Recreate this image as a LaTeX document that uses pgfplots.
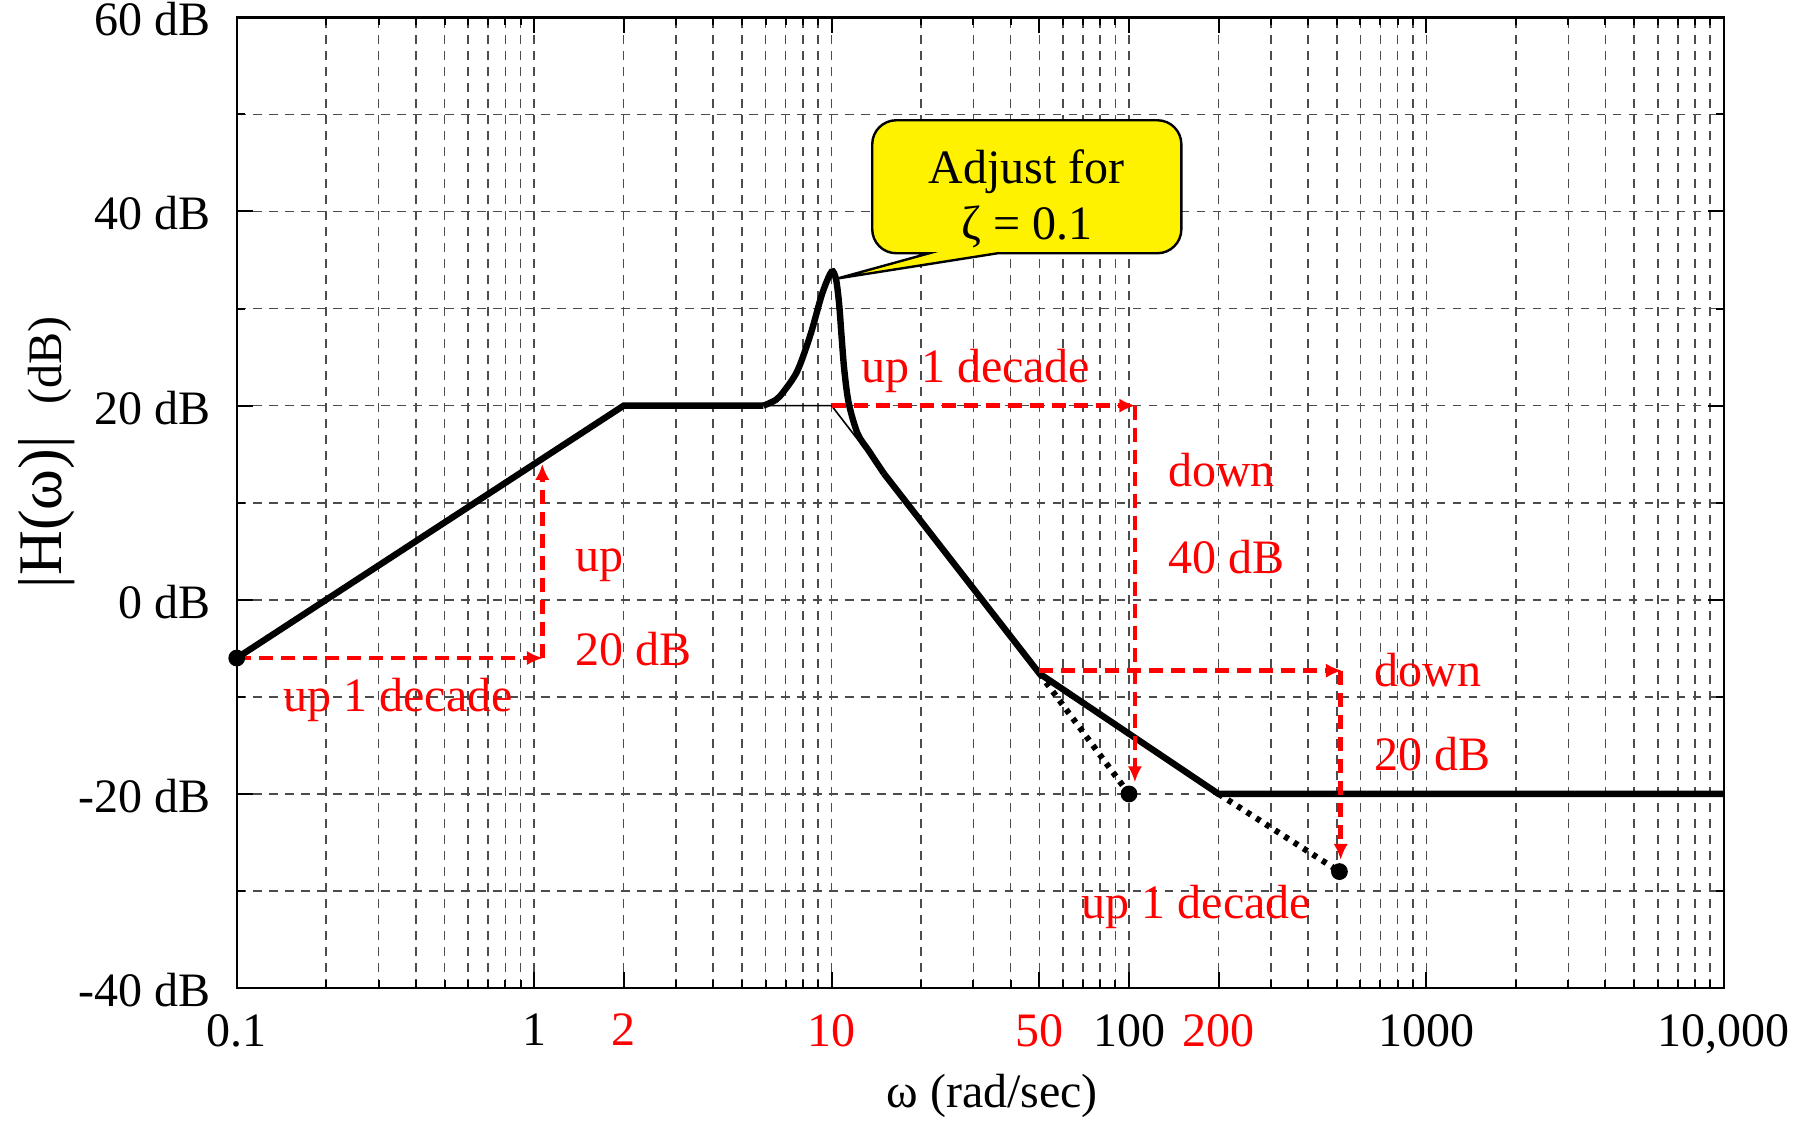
\documentclass[border=0pt]{standalone}
\usepackage{pgfplots}
\pgfplotsset{compat=1.18}
\usepackage{fontspec}
\setmainfont{Liberation Serif}
\usetikzlibrary{arrows.meta}
\begin{document}
\begin{tikzpicture}[font=\fontsize{12}{14.4}\selectfont]
\useasboundingbox (-59.2pt,-33.6pt) rectangle (395.6pt,247.05pt);
\begin{axis}[
  at={(0pt,0pt)}, anchor=south west,
  scale only axis, width=371.8pt, height=242.7pt,
  xmode=log, xmin=0.1, xmax=10000, ymin=-40, ymax=60,
  xtick={0.1,1,2,10,50,100,200,1000,10000},
  xticklabels={0.1,1,\textcolor{red}{2},\textcolor{red}{10},\textcolor{red}{50},100,\textcolor{red}{200},1000,{10,000}},
  minor xtick={0.2,0.3,0.4,0.5,0.6,0.7,0.8,0.9,3,4,5,6,7,8,9,20,30,40,60,70,80,90,300,400,500,600,700,800,900,2000,3000,4000,5000,6000,7000,8000,9000},
  ytick={-40,-20,0,20,40,60},
  yticklabels={-40 dB,-20 dB,0 dB,20 dB,40 dB,60 dB},
  minor ytick={-30,-10,10,30,50},
  grid=both,
  major grid style={black!70, line width=0.4pt, dash pattern=on 2.2pt off 1.8pt},
  minor grid style={black!70, line width=0.4pt, dash pattern=on 2.2pt off 1.8pt},
  axis line style={line width=0.6pt},
  tick style={black, line width=0.5pt},
  major tick length=4pt, minor tick length=2pt,
  xticklabel style={yshift=-3pt},
  yticklabel style={xshift=-3pt, yshift=-0.5pt},
  clip=false,
  /pgf/number format/assume math mode=true,
]
% thin asymptotes
\addplot[black, line width=0.4pt] coordinates {(5.9,20) (10,20) (14,14.2)};
% main magnitude
\addplot[black, line width=1.6pt] coordinates {(0.1,-6) (2,20) (5.9,20)};
\addplot[black, line width=1.6pt, smooth, tension=0.5] coordinates {
 (5.9,20) (6.5,20.6) (6.92,21.5) (7.68,23.6) (8.51,27.4) (9.29,31.5) (10.0,33.8) (10.35,33.0)
 (10.6,30.5) (10.8,27.2) (11.04,23.6) (11.43,20.2) (12.24,17.1) (13.37,15.3) (15,13)};
\addplot[black, line width=1.6pt] coordinates {(15,13) (50,-7.6) (200,-20) (10000,-20)};
% dotted extensions
\addplot[black, line width=1.5pt, dash pattern=on 1.2pt off 1.6pt] coordinates {(50,-7.6) (100,-20)};
\addplot[black, line width=1.5pt, dash pattern=on 1.2pt off 1.6pt] coordinates {(200,-20) (510,-28)};
% dots
\addplot[black, only marks, mark=*, mark size=1.9pt] coordinates {(0.1,-6) (100,-20) (510,-28)};
% red arrows
\addplot[red, line width=1.2pt, dash pattern=on 3.5pt off 2pt, -{Latex[length=4pt,width=3.6pt]}] coordinates {(0.1,-6) (1.07,-6)};
\addplot[red, line width=1.2pt, dash pattern=on 3.5pt off 2pt, -{Latex[length=4pt,width=3.6pt]}] coordinates {(1.065,-6) (1.065,14)};
\addplot[red, line width=1.2pt, dash pattern=on 3.5pt off 2pt, -{Latex[length=4pt,width=3.6pt]}] coordinates {(10,20) (105,20)};
\addplot[red, line width=1.2pt, dash pattern=on 3.5pt off 2pt, -{Latex[length=4pt,width=3.6pt]}] coordinates {(104.7,20) (104.7,-18.8)};
\addplot[red, line width=1.2pt, dash pattern=on 3.5pt off 2pt, -{Latex[length=4pt,width=3.6pt]}] coordinates {(50,-7.3) (520,-7.3)};
\addplot[red, line width=1.2pt, dash pattern=on 3.5pt off 2pt, -{Latex[length=4pt,width=3.6pt]}] coordinates {(515,-7.3) (515,-26.8)};
% red texts
\node[red] at (axis cs:0.349,-10.3) {up 1 decade};
\node[red, anchor=west, inner sep=0pt] at (axis cs:1.37,3.6) {up};
\node[red, anchor=west, inner sep=0pt] at (axis cs:1.37,-5.1) {20 dB};
\node[red] at (axis cs:30.5,23.6) {up 1 decade};
\node[red, anchor=west, inner sep=0pt] at (axis cs:134.6,13.4) {down};
\node[red, anchor=west, inner sep=0pt] at (axis cs:134.6,4.4) {40 dB};
\node[red, anchor=west, inner sep=0pt] at (axis cs:667,-7.2) {down};
\node[red, anchor=west, inner sep=0pt] at (axis cs:667,-15.9) {20 dB};
\node[red] at (axis cs:168.6,-31.6) {up 1 decade};
% callout
\draw[black, line width=0.6pt, fill=yellow] (axis cs:21.3,35.7) -- (axis cs:10.47,33.1) -- (axis cs:36.2,35.7)
  [rounded corners=6pt] -- (axis cs:150,35.7) -- (axis cs:150,49.4) -- (axis cs:13.7,49.4) -- (axis cs:13.7,35.7) [sharp corners] -- cycle;
\node[align=center, font=\fontsize{12}{14}\selectfont] at (axis cs:45.3,41.3) {Adjust for\\ζ = 0.1};
% axis labels
\node[rotate=90] at (axis description cs:-0.128,0.552) {{\fontsize{15.5}{16}\selectfont |H(ω)|}\hspace{8pt}(dB)};
\node at (axis description cs:0.508,-0.111) {ω (rad/sec)};
\end{axis}
\end{tikzpicture}
\end{document}
